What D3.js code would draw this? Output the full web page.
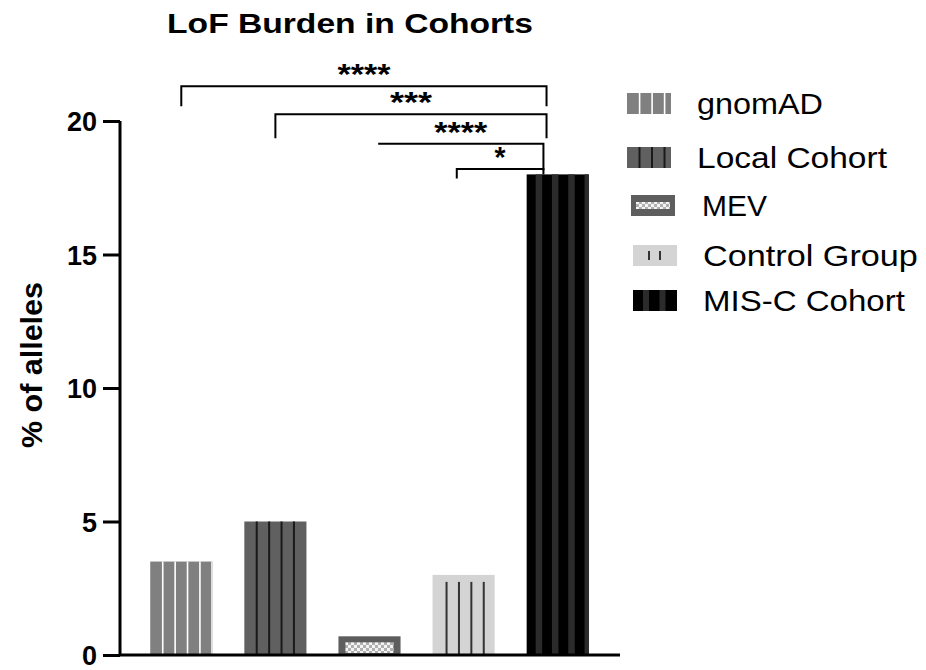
<!DOCTYPE html>
<html><head><meta charset="utf-8">
<script src="https://cdn.jsdelivr.net/npm/d3@7"></script>
<style>body{margin:0;background:#fff}svg{display:block;font-family:"Liberation Sans",Arial,sans-serif}</style>
</head><body>
<svg id="chart" width="926" height="670"></svg>
<script>
const categories = ["gnomAD", "Local Cohort", "MEV", "Control Group", "MIS-C Cohort"];
const values = [3.5, 5.0, 0.7, 3.0, 18.0];
const yTicks = [0, 5, 10, 15, 20];
const brackets = [
  {from: "gnomAD", to: "MIS-C Cohort", label: "****", level: 21.3},
  {from: "Local Cohort", to: "MIS-C Cohort", label: "***", level: 20.25},
  {from: "MEV", to: "MIS-C Cohort", label: "****", level: 19.15},
  {from: "Control Group", to: "MIS-C Cohort", label: "*", level: 18.2}
];
// bracket drawing style (fractions of band width, tick lengths in value units)
const bracketStyle = [
  {lf: 0.5, rf: 0.32, lt: 0.75, rt: 0.75},
  {lf: 0.5, rf: 0.32, lt: 0.9, rt: 0.9},
  {lf: 0.64, rf: 0.27, lt: 0, rt: 1.0},
  {lf: 0.39, rf: 0.27, lt: 0.35, rt: 0.2}
];

const svg = d3.select("#chart");
const defs = svg.append("defs");

const ck = defs.append("pattern").attr("id", "pMEV").attr("patternUnits", "userSpaceOnUse")
  .attr("width", 6).attr("height", 6);
ck.append("rect").attr("width", 6).attr("height", 6).attr("fill", "#f4f4f4");
ck.append("rect").attr("width", 3).attr("height", 3).attr("fill", "#b0b0b0");
ck.append("rect").attr("x", 3).attr("y", 3).attr("width", 3).attr("height", 3).attr("fill", "#b0b0b0");

const y = d3.scaleLinear().domain([0, 20]).range([655, 121]);
const x = d3.scaleBand().domain(categories).range([122, 617]).paddingInner(0.34).paddingOuter(0.3);
const bw = x.bandwidth();

function addText(parent, tx, ty, str, size, weight, targetW, anchor, rotate) {
  const g = parent.append("g");
  const t = g.append("text").attr("font-size", size).attr("font-weight", weight || "normal")
    .attr("text-anchor", anchor || "start").text(str);
  const len = t.node().getComputedTextLength();
  const sx = targetW ? targetW / len : 1;
  g.attr("transform", `translate(${tx},${ty})` + (rotate ? ` rotate(${rotate})` : "") + ` scale(${sx},1)`);
  return t;
}

addText(svg, 350, 33, "LoF Burden in Cohorts", 28, "bold", 366, "middle");

function drawBar(g, cat, x0, y0, w, h, legend) {
  const sp = legend ? 12.5 : 12.4;
  if (cat === "gnomAD") {
    g.append("rect").attr("x", x0).attr("y", y0).attr("width", w).attr("height", h).attr("fill", "#808080");
    for (let xx = x0 + sp; xx < x0 + w - 3; xx += sp)
      g.append("rect").attr("x", xx - 0.7).attr("y", y0).attr("width", 1.6).attr("height", h).attr("fill", "#fff");
    if (!legend) g.append("rect").attr("x", x0 + w - 1.2).attr("y", y0).attr("width", 1.2).attr("height", h).attr("fill", "#eee");
  } else if (cat === "Local Cohort") {
    g.append("rect").attr("x", x0).attr("y", y0).attr("width", w).attr("height", h).attr("fill", "#606060");
    for (let xx = x0 + sp; xx < x0 + w - 3; xx += sp)
      g.append("rect").attr("x", xx - 1).attr("y", y0).attr("width", 2).attr("height", h).attr("fill", "#1a1a1a");
  } else if (cat === "MEV") {
    g.append("rect").attr("x", x0).attr("y", y0).attr("width", w).attr("height", h).attr("fill", "#5e5e5e");
    const ix = legend ? 5 : 7, iy = legend ? 7 : 6;
    if (h > 2 * iy - 2)
      g.append("rect").attr("x", x0 + ix).attr("y", y0 + iy).attr("width", w - 2 * ix)
        .attr("height", Math.max(0, h - iy - (legend ? 7 : 2))).attr("fill", "url(#pMEV)");
  } else if (cat === "Control Group") {
    g.append("rect").attr("x", x0).attr("y", y0).attr("width", w).attr("height", h).attr("fill", "#d4d4d4");
    if (legend) {
      [16, 27].forEach(dx => g.append("rect").attr("x", x0 + dx - 1).attr("y", y0 + 6).attr("width", 2).attr("height", h - 12).attr("fill", "#333"));
    } else {
      for (let xx = x0 + 14; xx < x0 + w - 8; xx += sp)
        g.append("rect").attr("x", xx - 1).attr("y", y0 + 7).attr("width", 2).attr("height", h - 7).attr("fill", "#333");
    }
  } else {
    g.append("rect").attr("x", x0).attr("y", y0).attr("width", w).attr("height", h).attr("fill", "#000");
    const per = legend ? 16.5 : 16.3;
    for (let xx = x0 + (legend ? 10 : 9); xx < x0 + w - (legend ? 8 : 0); xx += per)
      g.append("rect").attr("x", xx).attr("y", y0).attr("width", Math.min(legend ? 6 : 6.5, x0 + w - xx)).attr("height", h).attr("fill", "#2b2b2b");
  }
}

const barsG = svg.append("g");
categories.forEach((c, i) => {
  const g = barsG.append("g");
  drawBar(g, c, x(c), y(values[i]), bw, y(0) - y(values[i]), false);
});

const yAxis = svg.append("g").attr("transform", "translate(120,0)")
  .call(d3.axisLeft(y).tickValues(yTicks).tickSize(17).tickPadding(6));
yAxis.select(".domain").attr("stroke-width", 3).attr("d", `M0,${y(20)}V${y(0)}`);
yAxis.selectAll(".tick line").attr("stroke-width", 3);
yAxis.selectAll(".tick text").attr("font-size", 27).attr("font-weight", "bold")
  .attr("font-family", "Liberation Sans, Arial, sans-serif").attr("fill", "#000").attr("dy", "0.36em");

svg.append("line").attr("x1", 120).attr("x2", 620).attr("y1", y(0)).attr("y2", y(0))
  .attr("stroke", "#000").attr("stroke-width", 3);

addText(svg, 42, 365, "% of alleles", 30, "bold", 166, "middle", -90);

const starWidths = {"****": 53, "***": 42, "*": 11};
const bg = svg.append("g");
brackets.forEach((b, i) => {
  const s = bracketStyle[i];
  const xl = x(b.from) + bw * s.lf, xr = x(b.to) + bw * s.rf;
  const yl = y(b.level);
  const path = d3.path();
  path.moveTo(xl, yl + (y(0) - y(s.lt)));
  path.lineTo(xl, yl);
  path.lineTo(xr, yl);
  path.lineTo(xr, yl + (y(0) - y(s.rt)));
  bg.append("path").attr("d", path.toString()).attr("fill", "none").attr("stroke", "#000").attr("stroke-width", 2);
  addText(bg, (xl + xr) / 2, yl - 2, b.label, 30, "bold", starWidths[b.label], "middle");
});

const legRows = [
  {dx: 0, y: 93, tx: 697, w: 126},
  {dx: 0, y: 147, tx: 697, w: 190},
  {dx: 4, y: 195, tx: 702, w: 65},
  {dx: 6, y: 245, tx: 703, w: 215},
  {dx: 6, y: 290, tx: 703, w: 202}
];
const lg = svg.append("g");
categories.forEach((c, i) => {
  const r = legRows[i];
  const g = lg.append("g");
  drawBar(g, c, 627 + r.dx, r.y, 44, 21, true);
  addText(lg, r.tx, r.y + 21, c, 30, "normal", r.w, "start");
});
</script>
</body></html>
